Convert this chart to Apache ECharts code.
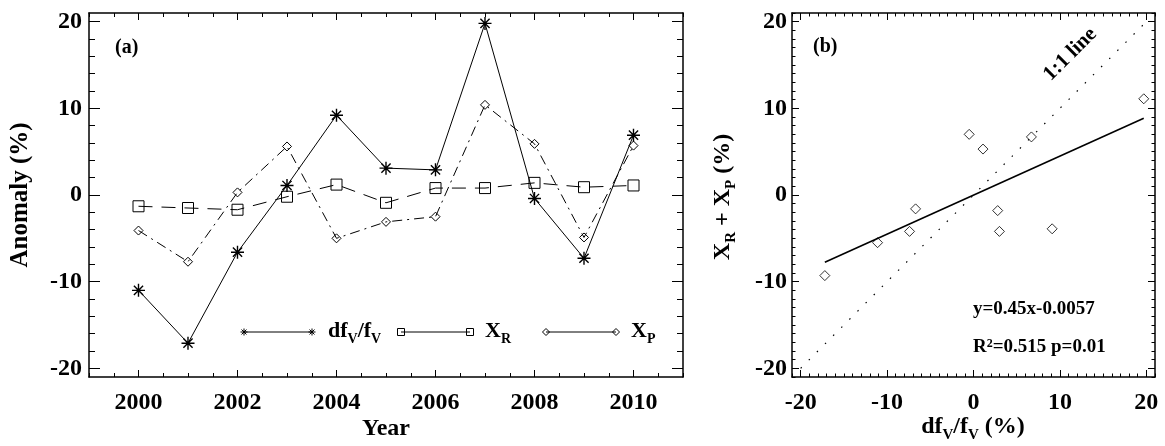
<!DOCTYPE html>
<html><head><meta charset="utf-8">
<script src="https://cdn.jsdelivr.net/npm/echarts@6/dist/echarts.min.js"></script>
<style>html,body{margin:0;padding:0;background:#fff}#c{width:1165px;height:446px}</style>
</head><body><div id="c"></div>
<script>
// ---- data ----
const years = [2000, 2001, 2002, 2003, 2004, 2005, 2006, 2007, 2008, 2009, 2010];
const dfv   = [-11.0, -17.1, -6.6, 1.1, 9.2, 3.1, 2.9, 19.8, -0.4, -7.3, 6.9];
const xr    = [-1.3, -1.5, -1.7, -0.2, 1.2, -0.9, 0.8, 0.8, 1.4, 0.9, 1.1];
const xp    = [-4.1, -7.7, 0.3, 5.6, -5.0, -3.1, -2.5, 10.4, 5.9, -4.9, 5.7];
const scatterX = [-11.1, -17.2, -6.7, 1.1, 9.1, 3.0, 2.8, 19.7, -0.5, -7.4, 6.7];
const scatterY = [-5.5, -9.3, -1.6, 5.3, -3.9, -4.2, -1.8, 11.1, 7.0, -4.2, 6.7];
const fitX = [-17.2, 19.7];
const fitY = [-7.75, 8.86];
const oneToOne = [-20, 20];
const yearTicks = [2000, 2002, 2004, 2006, 2008, 2010];
const anomTicks = [-20, -10, 0, 10, 20];
const pctTicks = [-20, -10, 0, 10, 20];

const FONT = 'Liberation Serif';
function range(a, b, s) { const r = []; for (let v = a; v <= b + 1e-9; v += s) r.push(Math.round(v * 1000) / 1000); return r; }

function axisSet(kind, gridIndex, min, max, majors, minors, majLen, minLen, margin) {
  const sides = kind === 'x' ? ['bottom', 'top'] : ['left', 'right'];
  const out = [];
  sides.forEach((pos, i) => {
    out.push({
      type: 'value', gridIndex, position: pos, min, max,
      axisLine: { show: true, onZero: false, lineStyle: { color: '#000', width: 1.5 } },
      axisTick: { show: true, inside: true, length: majLen, customValues: majors, lineStyle: { color: '#000', width: 1 } },
      axisLabel: { show: i === 0, customValues: majors, margin, color: '#000', fontFamily: FONT, fontWeight: 'bold', fontSize: 24,
        formatter: v => String(v) },
      splitLine: { show: false }
    });
    out.push({
      type: 'value', gridIndex, position: pos, min, max,
      axisLine: { show: false, onZero: false },
      axisTick: { show: true, inside: true, length: minLen, customValues: minors, lineStyle: { color: '#000', width: 1 } },
      axisLabel: { show: false }, splitLine: { show: false }
    });
  });
  return out;
}

const xAxes = [].concat(
  axisSet('x', 0, 1999, 2011, yearTicks, range(1999, 2011, 0.5), 7, 4, 14),
  axisSet('x', 1, -21, 21, pctTicks, range(-21, 21, 1), 7, 3.5, 14)
);
const yAxes = [].concat(
  axisSet('y', 0, -21, 21, anomTicks, range(-20, 20, 2), 11, 6, 7),
  axisSet('y', 1, -21, 21, pctTicks, range(-21, 21, 1), 7, 3.5, 5)
);

const STAR = 'path://M0,-10 L0,10 M-10,0 L10,0 M-7.07,-7.07 L7.07,7.07 M-7.07,7.07 L7.07,-7.07';
const hollow = { color: 'rgba(0,0,0,0)', borderColor: '#000', borderWidth: 1 };

const series = [
  { type: 'line', xAxisIndex: 0, yAxisIndex: 0, data: years.map((y, i) => [y, xr[i]]),
    symbol: 'rect', symbolSize: 11, itemStyle: hollow, lineStyle: { color: '#000', width: 1, type: [14, 9] }, z: 3 },
  { type: 'line', xAxisIndex: 0, yAxisIndex: 0, data: years.map((y, i) => [y, xp[i]]),
    symbol: 'diamond', symbolSize: 9, itemStyle: hollow, lineStyle: { color: '#000', width: 1, type: [10, 5, 2, 5] }, z: 3 },
  { type: 'line', xAxisIndex: 0, yAxisIndex: 0, data: years.map((y, i) => [y, dfv[i]]),
    symbol: STAR, symbolSize: 13, itemStyle: { color: 'rgba(0,0,0,0)', borderColor: '#000', borderWidth: 1.4 }, lineStyle: { color: '#000', width: 1 }, z: 4 },
  { type: 'line', xAxisIndex: 4, yAxisIndex: 4, data: [[oneToOne[0], oneToOne[0]], [oneToOne[1], oneToOne[1]]],
    symbol: 'none', lineStyle: { color: '#000', width: 1.2, type: [1.5, 10] } },
  { type: 'line', xAxisIndex: 4, yAxisIndex: 4, data: [[fitX[0], fitY[0]], [fitX[1], fitY[1]]],
    symbol: 'none', lineStyle: { color: '#000', width: 1.6 } },
  { type: 'scatter', xAxisIndex: 4, yAxisIndex: 4, data: scatterX.map((x, i) => [x, scatterY[i]]),
    symbol: 'diamond', symbolSize: 10, itemStyle: hollow }
];

// ---- decorations ----
function rich(size, sub) {
  return {
    b: { fontFamily: FONT, fontWeight: 'bold', fontSize: size, lineHeight: size + 2, verticalAlign: 'top', fill: '#000' },
    s: { fontFamily: FONT, fontWeight: 'bold', fontSize: sub, lineHeight: sub, verticalAlign: 'top', padding: [Math.round(size * 0.55), 0, 0, 0], fill: '#000' },
    p: { fontFamily: FONT, fontWeight: 'bold', fontSize: sub, lineHeight: sub, verticalAlign: 'top', padding: [0, 0, 0, 0], fill: '#000' }
  };
}
function txt(text, x, y, size, sub, align, rot) {
  return { type: 'text', x, y, rotation: rot || 0, z: 10,
    style: { text, rich: rich(size, sub), align: align || 'center', verticalAlign: 'middle' } };
}
function star(cx, cy, r) {
  const d = r * 0.707;
  return [[r, 0], [0, r], [d, d], [d, -d]].map(([dx, dy]) => ({ type: 'line', z: 10,
    shape: { x1: cx - dx, y1: cy - dy, x2: cx + dx, y2: cy + dy }, style: { stroke: '#000', lineWidth: 1 } }));
}
function seg(x1, x2, y) { return { type: 'line', z: 10, shape: { x1, y1: y, x2, y2: y }, style: { stroke: '#000', lineWidth: 1 } }; }
function sq(cx, cy, h) { return { type: 'rect', z: 10, shape: { x: cx - h, y: cy - h, width: 2 * h, height: 2 * h }, style: { fill: 'none', stroke: '#000', lineWidth: 1 } }; }
function dia(cx, cy, h) { return { type: 'polygon', z: 10, shape: { points: [[cx, cy - h], [cx + h, cy], [cx, cy + h], [cx - h, cy]] }, style: { fill: 'none', stroke: '#000', lineWidth: 1 } }; }

const LY = 332;
const graphic = [].concat(
  [seg(244, 312, LY)], star(244, LY, 3.5), star(312, LY, 3.5),
  [txt('{b|df}{s|V}{b|/f}{s|V}', 328, LY, 22, 14, 'left')],
  [seg(401, 470, LY), sq(401, LY, 3.5), sq(470, LY, 3.5)],
  [txt('{b|X}{s|R}', 485, LY, 22, 14, 'left')],
  [seg(546, 616, LY), dia(546, LY, 3.5), dia(616, LY, 3.5)],
  [txt('{b|X}{s|P}', 631, LY, 22, 14, 'left')],
  [txt('{b|(a)}', 115, 49, 20, 13, 'left'), txt('{b|(b)}', 813, 48, 20, 13, 'left')],
  [txt('{b|y=0.45x-0.0057}', 973, 310, 19, 12, 'left')],
  [txt('{b|R}{p|2}{b|=0.515 p=0.01}', 973, 348, 19, 12, 'left')],
  [txt('{b|1:1 line}', 1071, 55, 21, 13, 'center', Math.PI / 4)],
  [txt('{b|Year}', 386, 430, 24, 15)],
  [txt('{b|Anomaly (%)}', 22, 195, 25, 15, 'center', Math.PI / 2)],
  [txt('{b|df}{s|V}{b|/f}{s|V}{b| (%)}', 973, 428, 24, 15)],
  [txt('{b|X}{s|R}{b| + X}{s|P}{b| (%)}', 724, 197, 24, 15, 'center', Math.PI / 2)]
);

const chart = echarts.init(document.getElementById('c'), null, { renderer: 'canvas' });
chart.setOption({
  animation: false,
  backgroundColor: '#fff',
  grid: [
    { left: 89, top: 13, width: 594, height: 364 },
    { left: 792, top: 13, width: 363, height: 364 }
  ],
  xAxis: xAxes,
  yAxis: yAxes,
  series,
  graphic
});
</script></body></html>
